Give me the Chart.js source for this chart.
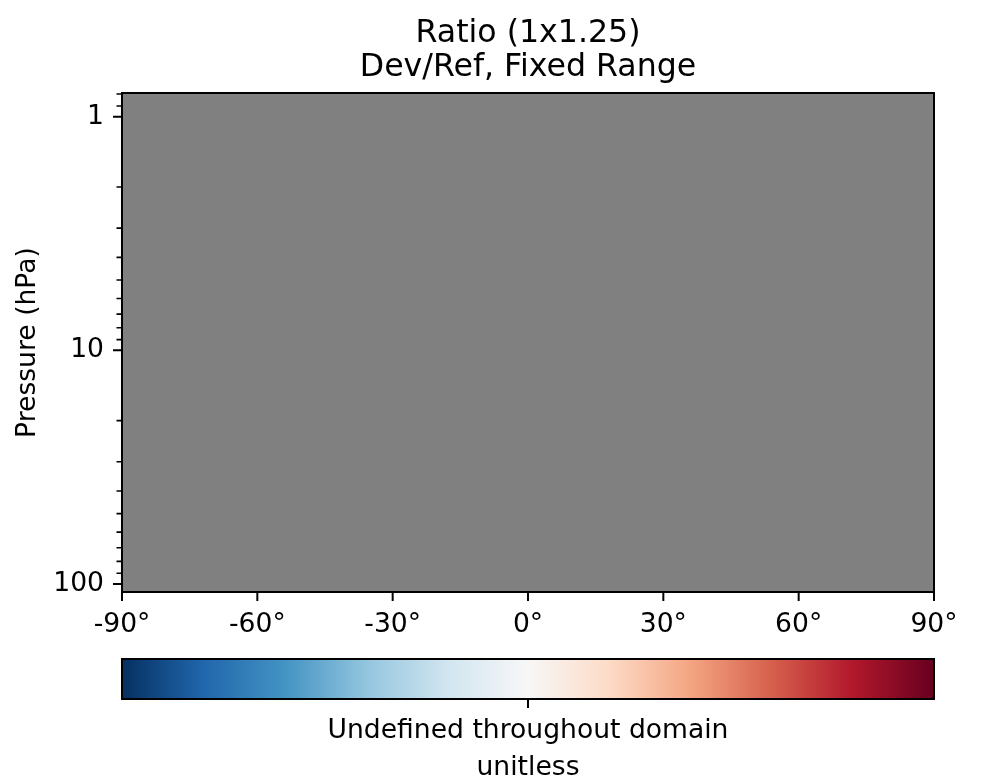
<!DOCTYPE html>
<html>
<head>
<meta charset="utf-8">
<title>Ratio (1x1.25)</title>
<script src="https://cdn.jsdelivr.net/npm/chart.js@4.4.0/dist/chart.umd.min.js"></script>
<style>
  html, body { margin: 0; padding: 0; background: #fff; }
  #wrap { width: 981px; height: 779px; }
</style>
</head>
<body>
<div id="wrap"><canvas id="ratio-chart" width="981" height="779"></canvas></div>
<script>
// ---- data ----
const titleLines = ['Ratio (1x1.25)', 'Dev/Ref, Fixed Range'];
const latEdges = [-90, 90];            // domain edges (deg)
const presEdges = [0.792, 108.2];      // domain edges (hPa), top -> bottom
const latTicks = [-90, -60, -30, 0, 30, 60, 90];
const presMajorTicks = [1, 10, 100];
const presMinorTicks = [0.8, 0.9, 2, 3, 4, 5, 6, 7, 8, 9, 20, 30, 40, 50, 60, 70, 80, 90];
const badColor = '#808080';            // ratio undefined everywhere -> masked cells

// colorbar (RdBu_r)
const cbarColors = ['#053061', '#2166ac', '#4393c3', '#92c5de', '#d1e5f0', '#f7f7f7',
                    '#fddbc7', '#f4a582', '#d6604d', '#b2182b', '#67001f'];
const cbarRange = [0, 2];
const cbarTicks = [1];
const cbarTickLabels = ['Undefined throughout domain'];
const cbarLabel = 'unitless';

const FONT = 'DejaVu Sans';
const LABEL_SIZE = 26.6;
Chart.defaults.font.family = FONT;
Chart.defaults.color = '#000';

// draws frame, tick marks, titles and the colorbar
const decorPlugin = {
  id: 'decor',
  afterDraw(chart) {
    const ctx = chart.ctx;
    const area = chart.chartArea;
    const xs = chart.scales.x;
    const ys = chart.scales.y;
    ctx.save();
    ctx.strokeStyle = '#000';
    ctx.lineWidth = 2;
    ctx.strokeRect(area.left, area.top, area.right - area.left, area.bottom - area.top);

    ctx.beginPath();
    latTicks.forEach(v => {
      const px = xs.getPixelForValue(v);
      ctx.moveTo(px, area.bottom);
      ctx.lineTo(px, area.bottom + 9);
    });
    presMajorTicks.forEach(v => {
      const py = ys.getPixelForValue(v);
      ctx.moveTo(area.left - 9, py);
      ctx.lineTo(area.left, py);
    });
    ctx.stroke();
    ctx.beginPath();
    ctx.lineWidth = 1.6;
    presMinorTicks.forEach(v => {
      const py = ys.getPixelForValue(v);
      ctx.moveTo(area.left - 5.5, py);
      ctx.lineTo(area.left, py);
    });
    ctx.stroke();

    // title
    const cx = (area.left + area.right) / 2;
    ctx.fillStyle = '#000';
    ctx.textAlign = 'center';
    ctx.textBaseline = 'alphabetic';
    ctx.font = '31.6px "' + FONT + '"';
    ctx.fillText(titleLines[0], cx, 42);
    ctx.fillText(titleLines[1], cx, 76);

    // colorbar
    const cTop = area.bottom + 67, cBot = area.bottom + 107;
    const grad = ctx.createLinearGradient(area.left, 0, area.right, 0);
    cbarColors.forEach((c, i) => grad.addColorStop(i / (cbarColors.length - 1), c));
    ctx.fillStyle = grad;
    ctx.fillRect(area.left, cTop, area.right - area.left, cBot - cTop);
    ctx.lineWidth = 2;
    ctx.strokeRect(area.left, cTop, area.right - area.left, cBot - cTop);

    ctx.fillStyle = '#000';
    ctx.font = LABEL_SIZE + 'px "' + FONT + '"';
    cbarTicks.forEach((v, i) => {
      const px = area.left + (v - cbarRange[0]) / (cbarRange[1] - cbarRange[0]) * (area.right - area.left);
      ctx.beginPath();
      ctx.moveTo(px, cBot);
      ctx.lineTo(px, cBot + 9);
      ctx.stroke();
      ctx.textBaseline = 'middle';
      ctx.fillText(cbarTickLabels[i], px, cBot + 32);
    });
    ctx.fillText(cbarLabel, cx, cBot + 69);
    ctx.restore();
  }
};

new Chart(document.getElementById('ratio-chart'), {
  type: 'line',
  data: {
    datasets: [{
      label: 'Ratio',
      data: latEdges.map(x => ({ x: x, y: presEdges[0] })),
      fill: { value: presEdges[1] },
      backgroundColor: badColor,
      borderWidth: 0,
      pointRadius: 0,
      tension: 0
    }]
  },
  options: {
    responsive: false,
    animation: false,
    devicePixelRatio: 1,
    layout: { padding: { top: 93, right: 47, bottom: 127, left: 0 } },
    plugins: { legend: { display: false }, tooltip: { enabled: false }, title: { display: false } },
    scales: {
      x: {
        type: 'linear',
        min: latEdges[0],
        max: latEdges[1],
        grid: { display: false, drawTicks: false },
        border: { display: false },
        afterBuildTicks: s => { s.ticks = latTicks.map(v => ({ value: v })); },
        afterFit: s => { s.height = 60; },
        ticks: {
          padding: 17,
          maxRotation: 0,
          autoSkip: false,
          font: { size: LABEL_SIZE },
          callback: v => v + '°'
        }
      },
      y: {
        type: 'logarithmic',
        reverse: true,
        min: presEdges[0],
        max: presEdges[1],
        grid: { display: false, drawTicks: false },
        border: { display: false },
        afterBuildTicks: s => { s.ticks = presMajorTicks.map(v => ({ value: v })); },
        afterFit: s => { s.width = 122; },
        ticks: {
          padding: 18,
          autoSkip: false,
          font: { size: LABEL_SIZE },
          callback: v => String(v)
        },
        title: {
          display: true,
          text: 'Pressure (hPa)',
          font: { size: LABEL_SIZE },
          padding: { top: 12, bottom: 0 }
        }
      }
    }
  },
  plugins: [decorPlugin]
});
</script>
</body>
</html>
